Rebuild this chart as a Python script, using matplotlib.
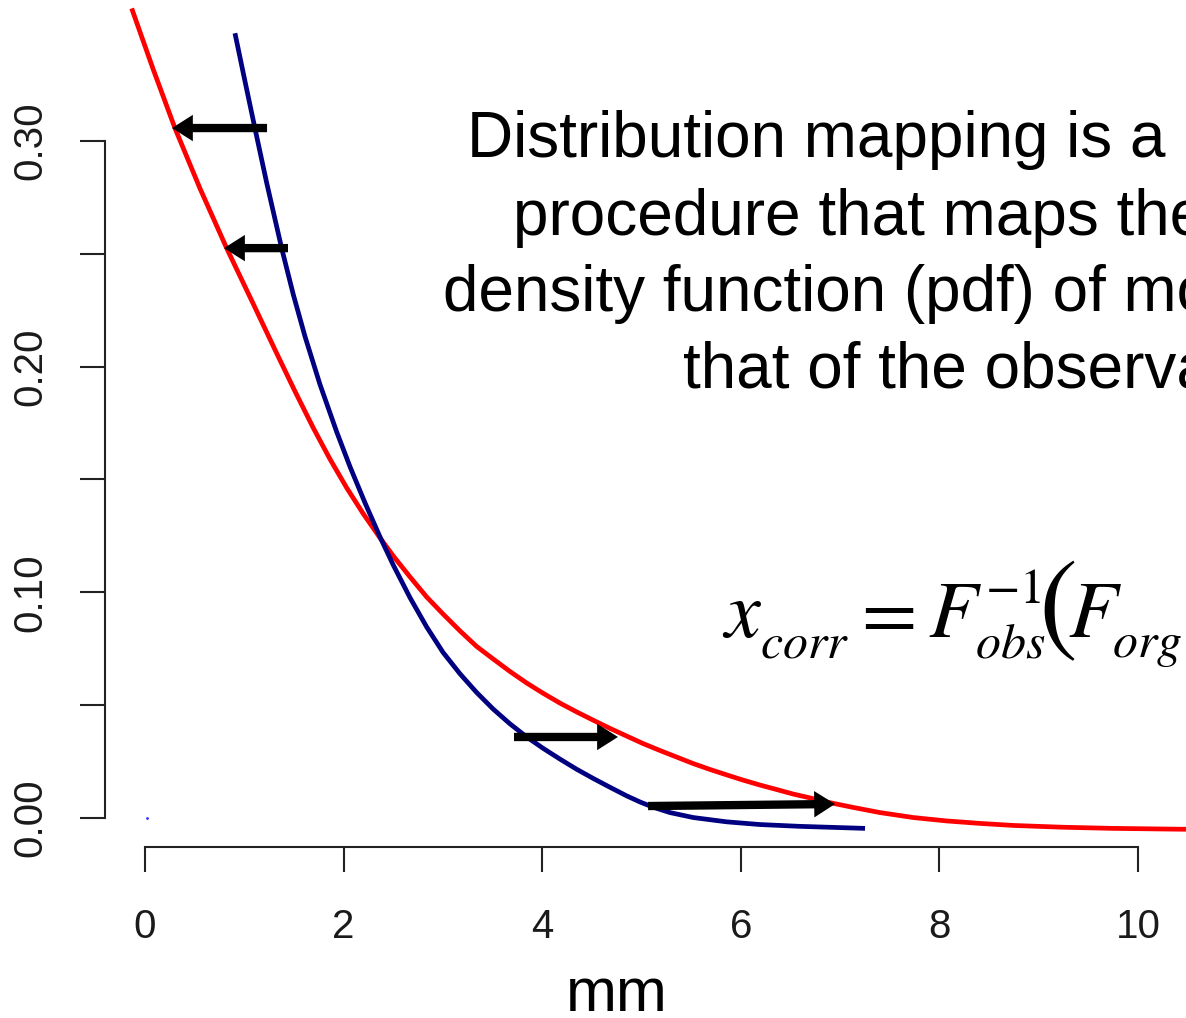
import matplotlib
matplotlib.use("Agg")
import matplotlib.pyplot as plt

# Curves (mm, density).
red_x = [-0.134, 0.081, 0.302, 0.554, 0.823, 1.088, 1.326, 1.511, 1.695, 1.863,
         2.031, 2.195, 2.367, 2.500, 2.669, 2.837, 3.001, 3.172, 3.340, 3.508,
         3.676, 3.844, 4.008, 4.179, 4.347, 4.515, 4.683, 4.851, 5.015, 5.186,
         5.354, 5.522, 5.690, 5.858, 6.022, 6.193, 6.362, 6.529, 6.697, 6.865,
         7.130, 7.402, 7.737, 8.073, 8.409, 8.744, 9.245, 9.748, 10.121, 10.483]
red_y = [0.3587, 0.3319, 0.3056, 0.2789, 0.2524, 0.2280, 0.2059, 0.1890, 0.1728, 0.1590,
         0.1463, 0.1350, 0.1241, 0.1161, 0.1068, 0.0979, 0.0904, 0.0829, 0.0760, 0.0704,
         0.0649, 0.0598, 0.0553, 0.0509, 0.0470, 0.0433, 0.0397, 0.0363, 0.0330, 0.0299,
         0.0270, 0.0241, 0.0215, 0.0191, 0.0168, 0.0146, 0.0126, 0.0106, 0.0089, 0.0071,
         0.0047, 0.0024, 0.0002, -0.0013, -0.0024, -0.0033, -0.0041, -0.0046, -0.0048, -0.0050]

blue_x = [0.906, 1.007, 1.108, 1.226, 1.377, 1.493, 1.611, 1.762, 1.931, 2.064,
          2.216, 2.367, 2.500, 2.669, 2.837, 3.001, 3.172, 3.340, 3.508, 3.676,
          3.844, 4.008, 4.179, 4.347, 4.515, 4.683, 4.851, 4.985, 5.116, 5.287,
          5.522, 5.858, 6.193, 6.596, 7.251]
blue_y = [0.3477, 0.3264, 0.3054, 0.2813, 0.2523, 0.2320, 0.2134, 0.1921, 0.1710, 0.1557,
          0.1396, 0.1245, 0.1121, 0.0976, 0.0846, 0.0734, 0.0639, 0.0556, 0.0482, 0.0417,
          0.0359, 0.0309, 0.0261, 0.0216, 0.0175, 0.0136, 0.0098, 0.0071, 0.0048, 0.0024,
          0.0002, -0.0017, -0.0029, -0.0037, -0.0046]

# Arrows: tail -> head
arrow_tail_x = [1.229, 1.440, 3.716, 5.066]
arrow_tail_y = [0.3057, 0.2525, 0.0359, 0.0053]
arrow_head_x = [0.272, 0.796, 4.763, 6.949]
arrow_head_y = [0.3057, 0.2525, 0.0359, 0.0062]

dot_x = [0.02]
dot_y = [0.0]

x_ticks = [0, 2, 4, 6, 8, 10]
y_ticks = [0.00, 0.05, 0.10, 0.15, 0.20, 0.25, 0.30]
y_tick_labels = ["0.00", "", "0.10", "", "0.20", "", "0.30"]

# lines of the note; the picture cuts them at its right edge
text_lines = ["Distribution mapping is a",
              "procedure that maps the probability",
              "density function (pdf) of modeled data onto",
              "that of the observations."]

plt.rcParams['font.family'] = ['Liberation Sans', 'DejaVu Sans']
plt.rcParams['mathtext.fontset'] = 'stix'

W, H = 1186, 1018
fig = plt.figure(figsize=(W / 100, H / 100), dpi=100)
ax = fig.add_axes([0, 0, 1, 1])

# pixel -> data mapping of the reference
px0, ppu = 145, 99.3
py0, ppy = 818, 2257
ax.set_xlim(-px0 / ppu, (W - px0) / ppu)
ax.set_ylim((py0 - H) / ppy, py0 / ppy)
ax.patch.set_alpha(0)

ax.plot(red_x, red_y, color="#ff0000", lw=3.4, solid_capstyle="butt")
ax.plot(blue_x, blue_y, color="#000080", lw=3.4, solid_capstyle="butt")
ax.plot(dot_x, dot_y, ".", color="#3030ff", ms=2)

for tx, ty, hx, hy in zip(arrow_tail_x, arrow_tail_y, arrow_head_x, arrow_head_y):
    ax.annotate("", xy=(hx, hy), xytext=(tx, ty),
                arrowprops=dict(arrowstyle="simple,head_length=1.5,head_width=1.9,tail_width=0.6",
                                mutation_scale=10, color="black", lw=0,
                                shrinkA=0, shrinkB=0))

# R-style detached axes
for s in ["top", "right"]:
    ax.spines[s].set_visible(False)
ax.spines["left"].set_position(("data", (105 - px0) / ppu))
ax.spines["left"].set_bounds(0, 0.3)
ax.spines["bottom"].set_position(("data", (py0 - 846.7) / ppy))
ax.spines["bottom"].set_bounds(0, 10)
for s in ["left", "bottom"]:
    ax.spines[s].set_linewidth(1.5)
    ax.spines[s].set_color("#222222")

ax.set_xticks(x_ticks)
ax.set_yticks(y_ticks)
ax.set_yticklabels(y_tick_labels, rotation=90, va="center")
ax.tick_params(axis="both", direction="out", length=18, width=1.5, color="#222222",
               labelsize=29, labelcolor="#1a1a1a")
ax.tick_params(axis="x", pad=26)
ax.tick_params(axis="y", pad=22)

fig.text(617 / W, 1 - 1011 / H, "mm", ha="center", va="baseline", fontsize=44)

line_x = [467, 513, 443, 683]
line_base = [157, 235, 311, 387]
for s, lx, lb in zip(text_lines, line_x, line_base):
    fig.text(lx / W, 1 - lb / H, s, ha="left", va="baseline", fontsize=46)

# formula x_corr = F_obs^-1(F_org(...)), set piece by piece
formula_parts = [(722, 637, r"$x$", 58), (760, 657, r"$corr$", 36),
                 (850, 637, r"$=$", 58), (928, 637, r"$F$", 58),
                 (975, 657, r"$obs$", 36), (985, 603, r"$-1$", 36),
                 (1038, 640, r"$($", 84), (1068, 637, r"$F$", 58),
                 (1112, 657, r"$org$", 36)]
for px, py, s, size in formula_parts:
    fig.text(px / W, 1 - py / H, s, ha="left", va="baseline", fontsize=size)

fig.savefig("out.png", dpi=100)
